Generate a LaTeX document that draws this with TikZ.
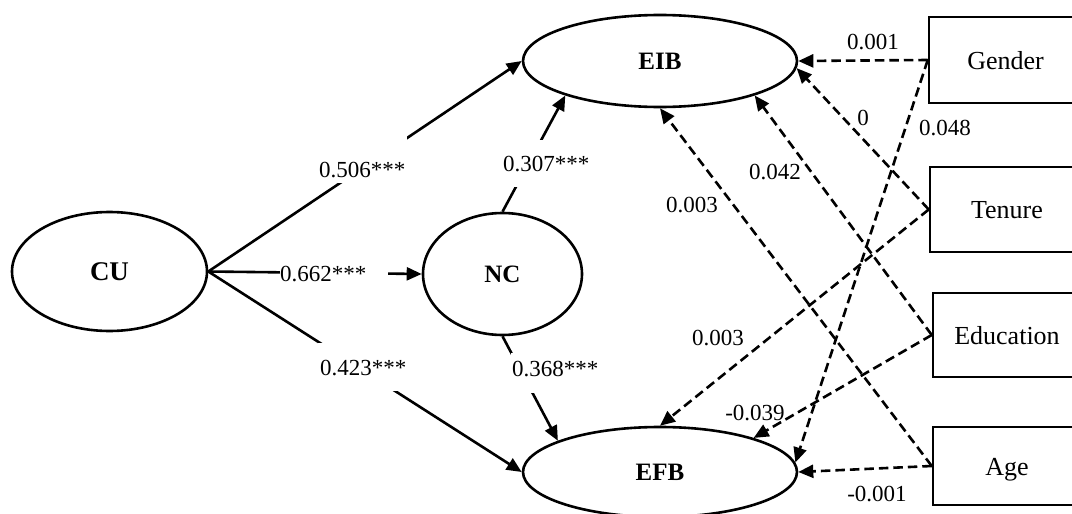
\documentclass[tikz,border=0pt]{standalone}
\usepackage{fontspec}
\setmainfont{Liberation Serif}
\usetikzlibrary{arrows.meta,shapes.geometric}
\begin{document}
\begin{tikzpicture}[x=1pt,y=-1pt,
  lat/.style={ellipse, draw, line width=2.6pt, inner sep=0pt,
    font=\bfseries\fontsize{25}{25}\selectfont},
  obs/.style={rectangle, draw, line width=2.5pt, inner sep=0pt,
    text height=18pt, text depth=0pt, font=\fontsize{26}{26}\selectfont},
  solidpath/.style={line width=2.6pt, -{Triangle[length=15pt,width=13pt]}},
  dashpath/.style={solidpath, dash pattern=on 9.5pt off 5pt},
  coef/.style={font=\fontsize{23}{23}\selectfont, inner sep=0pt},
  gapcoef/.style={coef, fill=white, anchor=base west, inner xsep=2pt}
]
\useasboundingbox (0,0) rectangle (1072,514);
\clip (0,0) rectangle (1072,514);

% latent variables
\node[lat, minimum width=195pt, minimum height=119pt, font=\bfseries\fontsize{27}{27}\selectfont] (CU) at (109.5,271.5) {CU};
\node[lat, minimum width=159pt, minimum height=122pt] (NC) at (502.5,274) {NC};
\node[lat, minimum width=274pt, minimum height=92pt] (EIB) at (660,61) {EIB};
\node[lat, minimum width=274pt, minimum height=90pt] (EFB) at (660,472) {EFB};

% control variables
\node[obs, minimum width=153pt, minimum height=86pt] (Gender) at (1005.5,60) {Gender};
\node[obs, minimum width=154pt, minimum height=85pt] (Tenure) at (1007,209.5) {Tenure};
\node[obs, minimum width=148pt, minimum height=84pt] (Education) at (1007,335) {Education};
\node[obs, minimum width=148pt, minimum height=78pt] (Age) at (1007,466) {Age};

% structural paths
\draw[solidpath] (CU.east) -- (EIB.west);
\draw[solidpath] (CU.east) -- (NC.west);
\draw[solidpath] (CU.east) -- (EFB.west);
\draw[solidpath] (NC.north) -- (EIB.-160);
\draw[solidpath] (NC.south) -- (EFB.163);

% control paths
\draw[dashpath] (Gender.west) -- (EIB.east);
\draw[dashpath] (Tenure.west) -- (EIB.-3);
\draw[dashpath] (Education.west) -- (EIB.-20);
\draw[dashpath] (Age.west) -- (EIB.south);
\draw[dashpath] (Gender.west) -- (EFB.4);
\draw[dashpath] (Tenure.west) -- (EFB.north);
\draw[dashpath] (Education.west) -- (EFB.20);
\draw[dashpath] (Age.west) -- (EFB.east);

% coefficients on solid paths
\node[gapcoef, text height=41pt, text depth=6pt] (c1) at (317,177) {0.506***};
\node[gapcoef, inner xsep=0pt, text height=12pt, text depth=6pt] (c2) at (280,281) {\makebox[108pt][l]{0.662***}};
\node[gapcoef, text height=32pt, text depth=16pt] (c3) at (318,375) {0.423***};
\node[gapcoef, inner xsep=1pt, text height=31pt, text depth=16pt] (c4) at (502,171) {0.307***};
\node[gapcoef, inner xsep=1pt, text height=23pt, text depth=17pt] (c5) at (511,376) {0.368***};

% coefficients on control paths
\node[coef] (d1) at (873,42) {0.001};
\node[coef] (d2) at (863,118) {0};
\node[coef] (d3) at (945,128) {0.048};
\node[coef] (d4) at (775,172) {0.042};
\node[coef] (d5) at (692,205) {0.003};
\node[coef] (d6) at (718,338) {0.003};
\node[coef] (d7) at (755,413) {-0.039};
\node[coef] (d8) at (877,494) {-0.001};
\end{tikzpicture}
\end{document}
